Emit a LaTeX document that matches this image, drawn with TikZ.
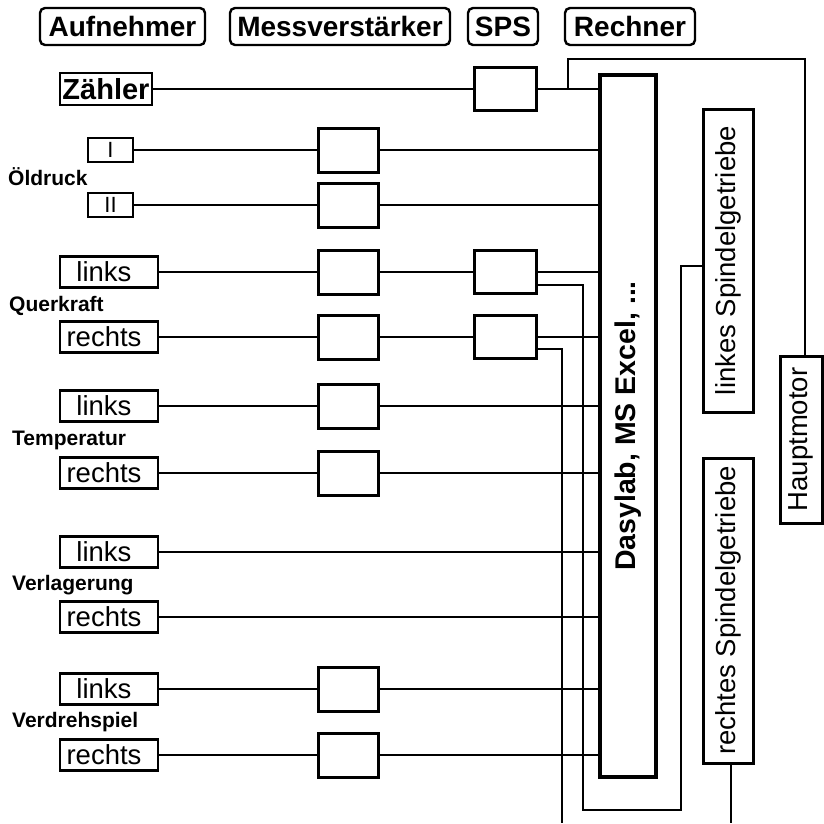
\documentclass[tikz,border=0pt]{standalone}
\usepackage{fontspec}
\setmainfont{Liberation Sans}
\usepackage{tikz}
\usetikzlibrary{positioning, calc}
\tikzset{
  header/.style={rectangle, draw=black, rounded corners=5pt, line width=2.4pt,
    minimum height=37pt, inner sep=0pt, font=\fontsize{28}{30}\selectfont\bfseries},
  countbox/.style={rectangle, draw=black, line width=2.8pt, minimum width=92pt,
    minimum height=32pt, inner sep=0pt, font=\fontsize{29}{30}\selectfont\bfseries},
  sensor/.style={rectangle, draw=black, line width=2.8pt, minimum width=98pt,
    minimum height=31pt, inner sep=0pt, font=\fontsize{27.5}{30}\selectfont,
    execute at end node={\hspace{10pt}}},
  oelbox/.style={rectangle, draw=black, line width=2.8pt, minimum width=45pt,
    minimum height=24pt, inner sep=0pt, font=\fontsize{22}{22}\selectfont},
  ampbox/.style={rectangle, draw=black, line width=3pt,
    minimum width=60pt, minimum height=44pt},
  spsbox/.style={rectangle, draw=black, line width=3pt,
    minimum width=62pt, minimum height=43pt},
  tallbox/.style={rectangle, draw=black, line width=3pt, inner sep=0pt},
  vtext/.style={rotate=90, font=\fontsize{27.5}{30}\selectfont},
  group/.style={anchor=base west, inner sep=0pt, font=\fontsize{21}{24}\selectfont\bfseries},
  line/.style={line width=1.4pt, color=black}
}

\begin{document}
\begin{tikzpicture}[x=1pt, y=-1pt]
  \useasboundingbox (0,0) rectangle (824,823);
  % column headers
  \node[header, minimum width=165pt] (hAuf) at (122.5,26.5) {Aufnehmer};
  \node[header, minimum width=220pt] (hMess) at (340,26.5) {Messverstärker};
  \node[header, minimum width=70pt] (hSps) at (503,26.5) {SPS};
  \node[header, minimum width=130pt] (hRech) at (630,26.5) {Rechner};

  % computer, drives
  \node[tallbox, line width=3.2pt, minimum width=56pt, minimum height=702pt] (rechner) at (628,426) {};
  \node[vtext, font=\fontsize{28.5}{30}\selectfont\bfseries] (rechnertext) at (rechner) {Dasylab, MS Excel, ...};
  \node[tallbox, minimum width=50pt, minimum height=303pt] (lsg) at (728,260.5) {};
  \node[vtext] (lsgtext) at (lsg) {linkes Spindelgetriebe};
  \node[tallbox, minimum width=50pt, minimum height=305pt] (rsg) at (728,610.5) {};
  \node[vtext] (rsgtext) at (rsg) {rechtes Spindelgetriebe};
  \node[tallbox, minimum width=42pt, minimum height=167pt] (motor) at (801,439.5) {};
  \node[vtext] (motortext) at (motor) {Hauptmotor};

  % Zaehler
  \node[countbox] (zaehler) at (106,89) {Zähler};
  \node[spsbox] (spsZ) at (505,89) {};

  % Oeldruck
  \node[oelbox] (oelI) at (110.5,150) {I};
  \node[oelbox] (oelII) at (110.5,205) {II};
  \node[group] (oel) at (8,185) {Öldruck};
  \node[ampbox] (mvOelI) at (348,150) {};
  \node[ampbox] (mvOelII) at (348,205) {};

  % Querkraft
  \node[sensor] (qkL) at (109,272) {links};
  \node[sensor] (qkR) at (109,337) {rechts};
  \node[group] (qk) at (9,311) {Querkraft};
  \node[ampbox] (mvQL) at (348,272) {};
  \node[ampbox] (mvQR) at (348,337) {};
  \node[spsbox] (spsQL) at (505,272) {};
  \node[spsbox] (spsQR) at (505,337) {};

  % Temperatur
  \node[sensor] (tpL) at (109,406) {links};
  \node[sensor] (tpR) at (109,473) {rechts};
  \node[group] (tp) at (12,445) {Temperatur};
  \node[ampbox] (mvTL) at (348,406) {};
  \node[ampbox] (mvTR) at (348,473) {};

  % Verlagerung
  \node[sensor] (vlL) at (109,552) {links};
  \node[sensor] (vlR) at (109,617) {rechts};
  \node[group] (vl) at (12,590) {Verlagerung};

  % Verdrehspiel
  \node[sensor] (vdL) at (109,689) {links};
  \node[sensor] (vdR) at (109,755) {rechts};
  \node[group] (vd) at (12,727) {Verdrehspiel};
  \node[ampbox] (mvDL) at (348,689) {};
  \node[ampbox] (mvDR) at (348,755) {};

  % signal lines
  \draw[line] (zaehler) -- (spsZ) -- (spsZ -| rechner.west);
  \draw[line] (oelI) -- (mvOelI) -- (mvOelI -| rechner.west);
  \draw[line] (oelII) -- (mvOelII) -- (mvOelII -| rechner.west);
  \draw[line] (qkL) -- (mvQL) -- (spsQL) -- (spsQL -| rechner.west);
  \draw[line] (qkR) -- (mvQR) -- (spsQR) -- (spsQR -| rechner.west);
  \draw[line] (tpL) -- (mvTL) -- (mvTL -| rechner.west);
  \draw[line] (tpR) -- (mvTR) -- (mvTR -| rechner.west);
  \draw[line] (vlL) -- (vlL -| rechner.west);
  \draw[line] (vlR) -- (vlR -| rechner.west);
  \draw[line] (vdL) -- (mvDL) -- (mvDL -| rechner.west);
  \draw[line] (vdR) -- (mvDR) -- (mvDR -| rechner.west);

  % control lines
  \coordinate (zbr) at (568,89);
  \coordinate (ztop) at (805,59);
  \draw[line] (zbr) |- (ztop) -- (ztop |- motor.north);
  \coordinate (qlA) at (583,810);
  \coordinate (qlB) at (681,266);
  \draw[line] ($(spsQL.east)+(0,13)$) -| (qlA) -| (qlB) -- (qlB -| lsg.west);
  \coordinate (qrEnd) at (562,823);
  \draw[line] ($(spsQR.east)+(0,12)$) -| (qrEnd);
  \coordinate (rsgEnd) at (731,823);
  \draw[line] (rsg.south -| rsgEnd) -- (rsgEnd);
\end{tikzpicture}
\end{document}
